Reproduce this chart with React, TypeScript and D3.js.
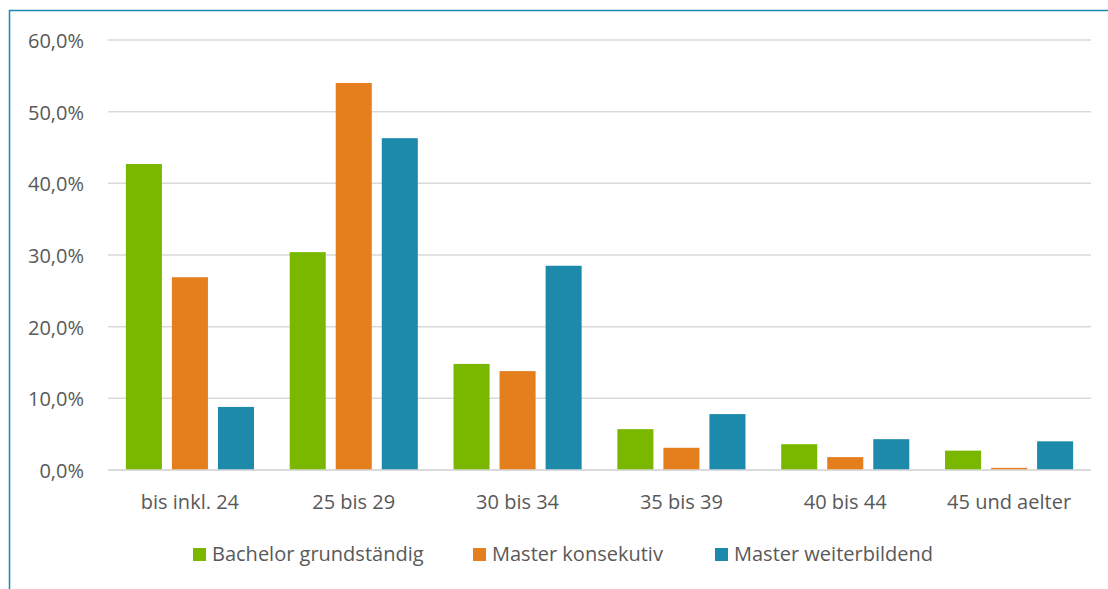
import React from "react"
import { scaleBand, scaleLinear, format } from "d3"

const categories = ["bis inkl. 24", "25 bis 29", "30 bis 34", "35 bis 39", "40 bis 44", "45 und aelter"]
const seriesNames = ["Bachelor grundständig", "Master konsekutiv", "Master weiterbildend"]
const bachelor = [42.7, 30.4, 14.8, 5.7, 3.6, 2.7]
const masterKons = [26.9, 54.0, 13.8, 3.1, 1.8, 0.3]
const masterWeiter = [8.8, 46.3, 28.5, 7.8, 4.3, 4.0]
const yTicks = [0, 10, 20, 30, 40, 50, 60]
const colors = ["#7ab800", "#e57f1e", "#1d8aab"]

const W = 1108
const H = 589
const FONT = "'Open Sans', sans-serif"

export default function App() {
  const series = [bachelor, masterKons, masterWeiter]
  const left = 108
  const right = 1091
  const top = 40
  const bottom = 470

  // groups of 3 bars, 36px wide with 10px gaps
  const x = scaleBand().domain(categories).range([left, right]).paddingInner(0.218).paddingOuter(0.109)
  const inner = scaleBand().domain(seriesNames).range([0, x.bandwidth()]).paddingInner(0.217)
  const y = scaleLinear().domain([0, 60]).range([bottom, top])
  const fmt = (v) => format(".1f")(v).replace(".", ",") + "%"

  const legendX = [193, 473, 715]

  return (
    <svg width={W} height={H} style={{ position: "fixed", left: 0, top: 0, background: "#fff" }}>
      <rect x={0} y={0} width={W} height={H} fill="#fff" />
      <path d={`M9.5,${H} L9.5,10.5 L${W},10.5`} fill="none" stroke="#1a8ab0" strokeWidth={1.5} />
      {yTicks.map((t) => (
        <g key={t}>
          <line x1={left} x2={right} y1={y(t)} y2={y(t)} stroke="#d9d9d9" strokeWidth={1.5} />
          <text x={84} y={y(t) + 1} dy="0.35em" textAnchor="end" fontFamily={FONT} fontSize={20} fill="#595959">
            {fmt(t)}
          </text>
        </g>
      ))}
      {categories.map((c, i) => (
        <g key={c} transform={`translate(${x(c)},0)`}>
          {series.map((s, j) => (
            <rect
              key={j}
              x={inner(seriesNames[j])}
              y={y(s[i])}
              width={inner.bandwidth()}
              height={bottom - y(s[i])}
              fill={colors[j]}
            />
          ))}
        </g>
      ))}
      <line x1={left} x2={right} y1={bottom} y2={bottom} stroke="#d9d9d9" strokeWidth={1.5} />
      {categories.map((c) => (
        <text key={c} x={x(c) + x.bandwidth() / 2} y={502} dy="0.35em" textAnchor="middle" fontFamily={FONT} fontSize={20} fill="#595959">
          {c}
        </text>
      ))}
      {seriesNames.map((n, j) => (
        <g key={n} transform={`translate(${legendX[j]},0)`}>
          <rect x={0} y={548} width={13} height={13} fill={colors[j]} />
          <text x={19} y={554} dy="0.35em" fontFamily={FONT} fontSize={20} fill="#595959">
            {n}
          </text>
        </g>
      ))}
    </svg>
  )
}
